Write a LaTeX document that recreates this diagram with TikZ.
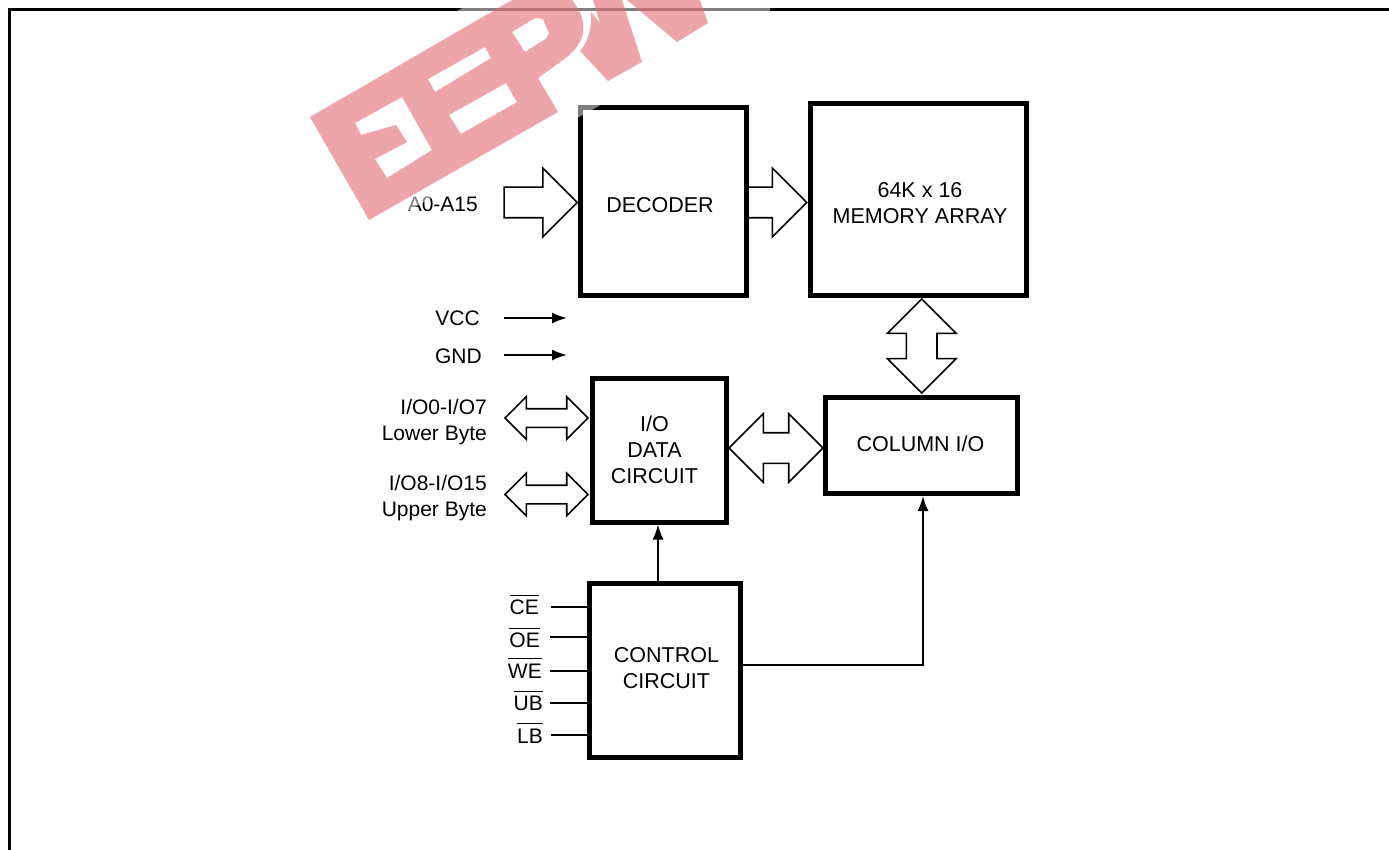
\documentclass[tikz,border=0pt]{standalone}
\usepackage{fontspec}
\setmainfont{Liberation Sans}
\usetikzlibrary{shapes.arrows, arrows.meta}
\definecolor{wmred}{RGB}{225,106,113}

\begin{document}
\begin{tikzpicture}[>={Latex[length = 15pt, width = 11pt]}, x = 1pt, y = -1pt, font = \fontsize{21.5}{26}\selectfont]
    \useasboundingbox (0, 0) rectangle (1389, 850);
    \clip (0, 0) rectangle (1389, 850);

    \tikzstyle{block} = [draw, line width = 5pt, fill = white, inner sep = 0pt]
    \tikzstyle{wide} = [single arrow, draw, fill = white, inner xsep = 0pt, inner ysep = 14.5pt, single arrow head extend = 19pt, line width = 1.6pt]
    \tikzstyle{widetwo} = [double arrow, draw, fill = white, inner xsep = 0pt, inner ysep = 14.5pt, minimum height = 94pt, double arrow head extend = 19pt, line width = 1.6pt]
    \tikzstyle{narrowtwo} = [double arrow, draw, fill = white, inner xsep = 0pt, inner ysep = 8.5pt, minimum height = 83pt, double arrow head extend = 12pt, line width = 1.6pt]
    \tikzstyle{sig} = [line width = 1.8pt]
    \tikzstyle{pinlabel} = [anchor = east, inner sep = 0pt, align = right, font = \fontsize{21}{26}\selectfont]

    \draw[line width = 2.7pt] (9.4, 850) -- (9.4, 9.4) -- (1389, 9.4);

    \node[wide, minimum height = 73pt] (addrarrow) at (533, 202.5) {};
    \node[wide, minimum height = 66pt] (decarrow) at (766, 202.5) {};
    \node[widetwo, rotate = 90] (memarrow) at (921.7, 346) {};
    \node[widetwo] (dataarrow) at (776, 448) {};
    \node[narrowtwo] (lowarrow) at (546.5, 418) {};
    \node[narrowtwo] (uparrow) at (546.5, 494.5) {};

    \node[block, minimum width = 166pt, minimum height = 188pt] (decoder) at (663, 202) {};
    \node[xshift = -3pt, yshift = -3pt] (decodertext) at (decoder) {DECODER};

    \node[block, minimum width = 216pt, minimum height = 192pt] (memory) at (918, 200) {};
    \node[xshift = 2pt, yshift = -3pt, align = center] (memorytext) at (memory) {64K x 16\\MEMORY ARRAY};

    \node[block, minimum width = 134pt, minimum height = 144pt] (datacircuit) at (659.5, 450) {};
    \node[xshift = -5pt, align = center] (datatext) at (datacircuit) {I/O\\DATA\\CIRCUIT};

    \node[block, minimum width = 192pt, minimum height = 96pt] (column) at (921.5, 445.5) {};
    \node[xshift = -1pt, yshift = 2pt] (columntext) at (column) {COLUMN I/O};

    \node[block, minimum width = 151pt, minimum height = 174pt] (control) at (665, 670.5) {};
    \node[xshift = 1.5pt, yshift = 2pt, align = center] (controltext) at (control) {CONTROL\\CIRCUIT};

    \draw[->, sig] (control.north -| datacircuit.south) ++(-1.5, 0) -- ([xshift = -1.5pt]datacircuit.south);
    \draw[->, sig] ([yshift = 5.4pt]control.east) -| ([xshift = 1.5pt]column.south);

    \node[pinlabel] (addrlabel) at (478, 204) {A0-A15};
    \node[pinlabel] (vcclabel) at (480, 318) {VCC};
    \node[pinlabel] (gndlabel) at (482, 356) {GND};
    \node[pinlabel] (lowlabel) at (487, 422) {I/O0-I/O7\\Lower Byte};
    \node[pinlabel] (uplabel) at (487, 498.5) {I/O8-I/O15\\Upper Byte};

    \coordinate (vccstart) at (504, 318);
    \coordinate (vccend) at (567, 318);
    \coordinate (gndstart) at (504, 355);
    \coordinate (gndend) at (567, 355);
    \draw[->, sig] (vccstart) -- (vccend);
    \draw[->, sig] (gndstart) -- (gndend);

    \node[pinlabel] (celabel) at (539, 605) {$\overline{\mbox{\rule{0pt}{18pt}CE}}$};
    \node[pinlabel] (oelabel) at (540, 638) {$\overline{\mbox{\rule{0pt}{18pt}OE}}$};
    \node[pinlabel] (welabel) at (542, 668) {$\overline{\mbox{\rule{0pt}{18pt}WE}}$};
    \node[pinlabel] (ublabel) at (543, 701) {$\overline{\mbox{\rule{0pt}{18pt}UB}}$};
    \node[pinlabel] (lblabel) at (543, 733) {$\overline{\mbox{\rule{0pt}{18pt}LB}}$};

    \coordinate (cepin) at (551, 607);
    \coordinate (oepin) at (550, 637);
    \coordinate (wepin) at (550, 671);
    \coordinate (ubpin) at (550, 703);
    \coordinate (lbpin) at (551, 735);
    \draw[sig] (cepin) -- (cepin -| control.west);
    \draw[sig] (oepin) -- (oepin -| control.west);
    \draw[sig] (wepin) -- (wepin -| control.west);
    \draw[sig] (ubpin) -- (ubpin -| control.west);
    \draw[sig] (lbpin) -- (lbpin -| control.west);

    % stamp over the drawing
    \fill[white, opacity = 0.5] (476, 0) -- (293, 106) -- (362, 236) -- (610, 100) -- (770, 12) -- (770, 0) -- cycle;
    \fill[wmred, opacity = 0.6, even odd rule]
        (310, 117) -- (369, 220) -- (558, 112) -- (538, 78) -- (567, 57) .. controls (588, 40) and (588, 20) .. (572, 0) -- (512, 0) -- cycle
        (355, 123) -- (402, 97) -- (432, 150) -- (387, 178) -- (375, 159) -- (407, 142) -- (396, 125) -- (361, 135) -- cycle
        (428, 79) -- (485, 47) -- (491, 58) -- (435, 92) -- cycle
        (449, 115) -- (506, 83) -- (517, 102) -- (461, 134) -- cycle
        (512, 32) -- (535, 18) -- (543, 19) -- (549, 33) -- (547, 38) -- (525, 52) -- cycle;
    \fill[wmred, opacity = 0.6] (580, 51) .. controls (590, 40) and (592, 22) .. (591, 12) -- (600, 23) -- (593, 0) -- (622, 0) -- (642, 62) -- (608, 81) -- cycle;
    \fill[wmred, opacity = 0.6] (627, 0) -- (677, 42) -- (708, 23) -- (700, 0) -- cycle;
\end{tikzpicture}
\end{document}
